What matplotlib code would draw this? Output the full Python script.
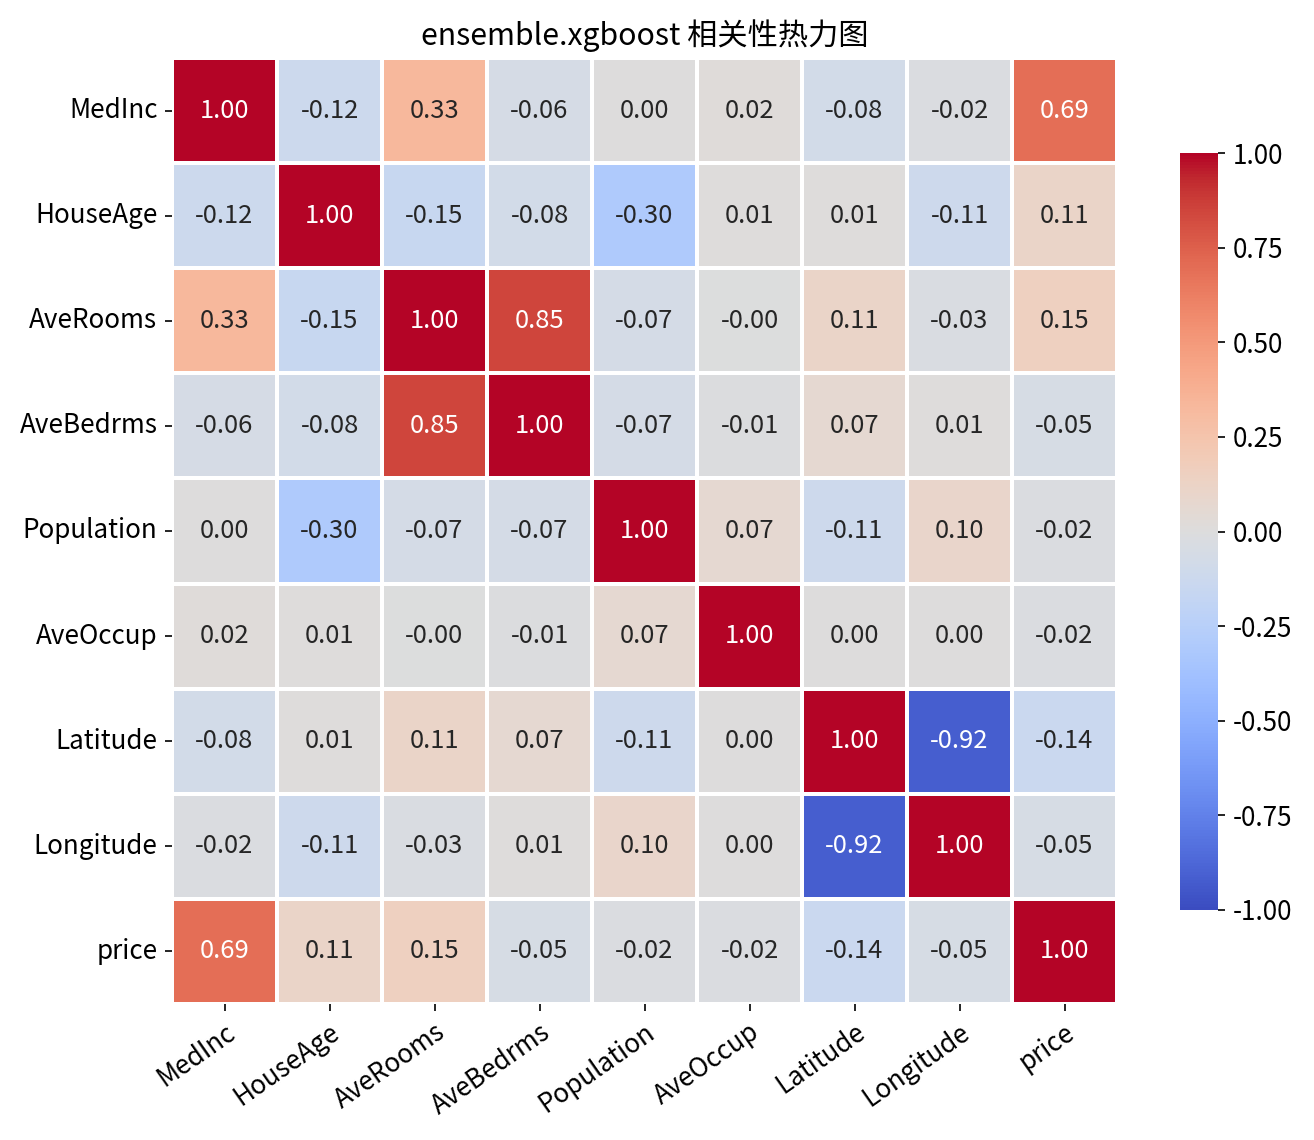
import numpy as np
import matplotlib
matplotlib.use("Agg")
import matplotlib.pyplot as plt
import seaborn as sns

labels = ["MedInc", "HouseAge", "AveRooms", "AveBedrms", "Population",
          "AveOccup", "Latitude", "Longitude", "price"]

corr = np.array([
    [1.00, -0.12, 0.33, -0.06, 0.00, 0.02, -0.08, -0.02, 0.69],
    [-0.12, 1.00, -0.15, -0.08, -0.30, 0.01, 0.01, -0.11, 0.11],
    [0.33, -0.15, 1.00, 0.85, -0.07, -0.004, 0.11, -0.03, 0.15],
    [-0.06, -0.08, 0.85, 1.00, -0.07, -0.01, 0.07, 0.01, -0.05],
    [0.00, -0.30, -0.07, -0.07, 1.00, 0.07, -0.11, 0.10, -0.02],
    [0.02, 0.01, -0.004, -0.01, 0.07, 1.00, 0.00, 0.00, -0.02],
    [-0.08, 0.01, 0.11, 0.07, -0.11, 0.00, 1.00, -0.92, -0.14],
    [-0.02, -0.11, -0.03, 0.01, 0.10, 0.00, -0.92, 1.00, -0.05],
    [0.69, 0.11, 0.15, -0.05, -0.02, -0.02, -0.14, -0.05, 1.00],
])

title = "ensemble.xgboost 相关性热力图"

plt.rcParams['font.family'] = ['Noto Sans CJK SC', 'DejaVu Sans']

fig = plt.figure(figsize=(8.76, 7.6), dpi=150)
ax = fig.add_axes([172/1314, 1-1004/1140, 945/1314, 946/1140])
cax = fig.add_axes([1180/1314, 1-910/1140, 38/1314, 757/1140])

sns.heatmap(corr, ax=ax, cbar_ax=cax, annot=True, fmt=".2f", cmap="coolwarm",
            vmin=-1, vmax=1, linewidths=1, linecolor="white",
            xticklabels=labels, yticklabels=labels,
            annot_kws={"fontsize": 12.3})

ax.set_title(title, fontsize=14.5, pad=6)
ax.tick_params(axis='both', labelsize=12.5)
plt.setp(ax.get_xticklabels(), rotation=35, ha="right", rotation_mode="anchor")
plt.setp(ax.get_yticklabels(), rotation=0)
cax.tick_params(labelsize=12.5)
cax.set_yticks([-1.0, -0.75, -0.5, -0.25, 0.0, 0.25, 0.5, 0.75, 1.0])
cax.set_yticklabels(["-1.00", "-0.75", "-0.50", "-0.25", "0.00", "0.25", "0.50", "0.75", "1.00"])

fig.savefig("out.png", dpi=150)
